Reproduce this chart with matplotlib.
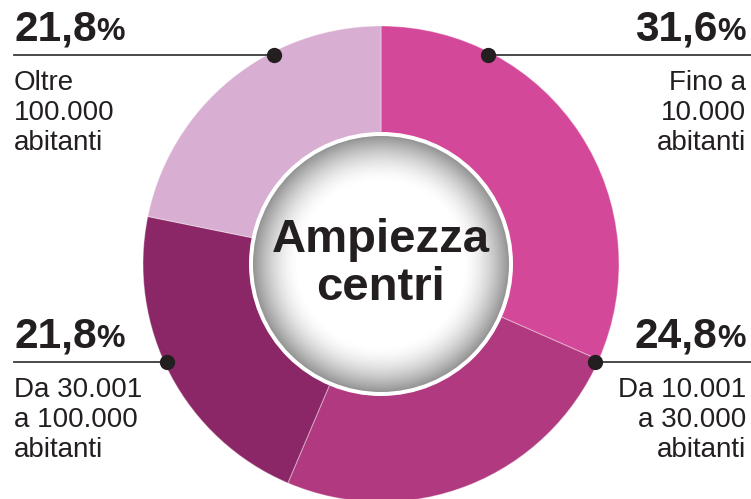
import numpy as np
import matplotlib
matplotlib.use('Agg')
from matplotlib import pyplot as plt
from matplotlib.patches import Circle

plt.rcParams['font.family'] = ['Liberation Sans', 'DejaVu Sans']

# data
shares = [31.6, 24.8, 21.8, 21.8]
share_labels = ['31,6', '24,8', '21,8', '21,8']
groups = [
    ['Fino a', '10.000', 'abitanti'],
    ['Da 10.001', 'a 30.000', 'abitanti'],
    ['Da 30.001', 'a 100.000', 'abitanti'],
    ['Oltre', '100.000', 'abitanti'],
]
colors = ['#d4489a', '#b0397f', '#8b2766', '#d8aed2']
center_title = ['Ampiezza', 'centri']

# callout layout: side of the figure and pixel row of the leader line
sides = ['right', 'right', 'left', 'left']
line_rows = [55, 362, 362, 55]

W, H = 751, 499
fig = plt.figure(figsize=(W / 100, H / 100), dpi=100)
ax = fig.add_axes([0, 0, 1, 1])

cx, cy = 381, H - 264
R = 238
hole = 131

ax.pie(shares, colors=colors, startangle=90, counterclock=False,
       radius=R, center=(cx, cy),
       wedgeprops=dict(width=R - hole + 3, edgecolor=(1, 1, 1, 0.35), linewidth=0.8))
ax.set_xlim(0, W)
ax.set_ylim(0, H)
ax.set_aspect('equal')
ax.axis('off')

# white disc with grey shading towards the rim
ax.add_patch(Circle((cx, cy), hole + 1, facecolor='white', edgecolor='none', zorder=3))
r_in = hole - 3
n = 400
gx, gy = np.meshgrid(np.linspace(-1, 1, n), np.linspace(-1, 1, n))
t = np.sqrt(gx ** 2 + gy ** 2)
shade = 1 - 0.42 * np.clip((t - 0.64) / 0.36, 0, 1) ** 1.7
img = ax.imshow(shade, cmap='gray', vmin=0, vmax=1, origin='lower',
                extent=(cx - r_in, cx + r_in, cy - r_in, cy + r_in), zorder=4,
                interpolation='bilinear')
clip = Circle((cx, cy), r_in, transform=ax.transData)
img.set_clip_path(clip)
ax.set_xlim(0, W)
ax.set_ylim(0, H)

for i, line in enumerate(center_title):
    ax.text(cx, H - (252 + 48 * i), line, ha='center', va='baseline',
            fontsize=34, fontweight='bold', color='#231f20', zorder=5)

# callouts
ink = '#231f20'
r_dot = 235
renderer = fig.canvas.get_renderer()
inv = ax.transData.inverted()
for lab, lines, side, row in zip(share_labels, groups, sides, line_rows):
    dy = 264 - row
    dx = np.sqrt(r_dot ** 2 - dy ** 2)
    y = H - row
    if side == 'right':
        xd = cx + dx
        ax.plot([xd, W], [y, y], color='#3a3a3a', lw=1.3, zorder=6)
        ax.plot(xd, y, 'o', color=ink, ms=10, zorder=7)
        pct = ax.text(746, y + 15, '%', ha='right', va='baseline',
                      fontsize=23, fontweight='bold', color=ink)
        bb = pct.get_window_extent(renderer)
        x_left = inv.transform((bb.x0, bb.y0))[0]
        ax.text(x_left, y + 15, lab, ha='right', va='baseline',
                fontsize=30.5, fontweight='bold', color=ink)
        for k, txt in enumerate(lines):
            ax.text(746, y - 35 - 30 * k, txt, ha='right', va='baseline',
                    fontsize=20, color=ink)
    else:
        xd = cx - dx
        ax.plot([14, xd], [y, y], color='#3a3a3a', lw=1.3, zorder=6)
        ax.plot(xd, y, 'o', color=ink, ms=10, zorder=7)
        num = ax.text(14, y + 15, lab, ha='left', va='baseline',
                      fontsize=30.5, fontweight='bold', color=ink)
        bb = num.get_window_extent(renderer)
        x_right = inv.transform((bb.x1, bb.y0))[0]
        ax.text(x_right, y + 15, '%', ha='left', va='baseline',
                fontsize=23, fontweight='bold', color=ink)
        for k, txt in enumerate(lines):
            ax.text(14, y - 35 - 30 * k, txt, ha='left', va='baseline',
                    fontsize=20, color=ink)

fig.savefig('out.png', dpi=100)
